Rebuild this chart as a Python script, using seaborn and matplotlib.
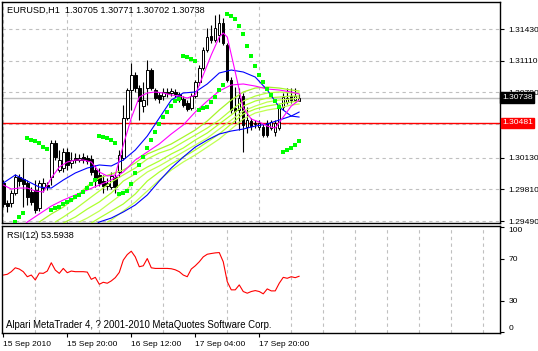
import matplotlib
matplotlib.use("Agg")
import matplotlib.pyplot as plt
import seaborn as sns
import numpy as np

sns.set_style("white")
plt.rcParams['font.family'] = ['Liberation Sans', 'DejaVu Sans']

# ---------------- data ----------------
opens = [1.29875, 1.29673, 1.29673, 1.29774, 1.29935, 1.29915, 1.29875, 1.29784, 1.29804, 1.29622,
         1.29824, 1.29855, 1.29935, 1.30279, 1.30006, 1.30026, 1.30188, 1.30077, 1.30127, 1.30107,
         1.30137, 1.30127, 1.30117, 1.30006, 1.29956, 1.29895, 1.29845, 1.29834, 1.29935, 1.29986,
         1.30127, 1.30531, 1.30814, 1.30966, 1.30834, 1.30652, 1.30834, 1.31016, 1.30814, 1.30764,
         1.30753, 1.30794, 1.30784, 1.30794, 1.30774, 1.30723, 1.30683, 1.30632, 1.30753, 1.30895,
         1.31036, 1.31218, 1.31359, 1.31319, 1.31370, 1.31491, 1.31268, 1.30915, 1.30632, 1.30612,
         1.30753, 1.30440, 1.30501, 1.30471, 1.30440, 1.30440, 1.30481, 1.30430, 1.30390, 1.30430,
         1.30642, 1.30693, 1.30753, 1.30713, 1.30705]
highs = [1.29905, 1.29703, 1.29804, 1.29966, 1.29966, 1.30127, 1.29905, 1.29834, 1.29905, 1.29905,
         1.29925, 1.29885, 1.30309, 1.30309, 1.30208, 1.30228, 1.30228, 1.30188, 1.30178, 1.30168,
         1.30178, 1.30158, 1.30158, 1.30057, 1.30026, 1.29956, 1.29925, 1.29986, 1.29986, 1.30208,
         1.30663, 1.30834, 1.31087, 1.30996, 1.30865, 1.30895, 1.31117, 1.31036, 1.30834, 1.30794,
         1.30834, 1.30834, 1.30834, 1.30824, 1.30794, 1.30753, 1.30713, 1.30784, 1.30915, 1.31066,
         1.31248, 1.31440, 1.31470, 1.31572, 1.31582, 1.31541, 1.31289, 1.30945, 1.30844, 1.30834,
         1.30784, 1.30642, 1.30531, 1.30511, 1.30511, 1.30471, 1.30511, 1.30511, 1.30511, 1.30673,
         1.30784, 1.30834, 1.30834, 1.30834, 1.30771]
lows = [1.29632, 1.29582, 1.29632, 1.29754, 1.29845, 1.29632, 1.29653, 1.29653, 1.29572, 1.29592,
        1.29784, 1.29804, 1.29855, 1.30107, 1.29986, 1.29986, 1.30006, 1.30026, 1.30077, 1.30087,
        1.30077, 1.30067, 1.29956, 1.29834, 1.29845, 1.29774, 1.29804, 1.29814, 1.29774, 1.29935,
        1.30107, 1.30511, 1.30612, 1.30794, 1.30511, 1.30592, 1.30663, 1.30814, 1.30713, 1.30683,
        1.30713, 1.30743, 1.30753, 1.30743, 1.30693, 1.30642, 1.30602, 1.30612, 1.30733, 1.30865,
        1.31016, 1.31198, 1.31289, 1.31299, 1.31299, 1.31268, 1.30895, 1.30582, 1.30481, 1.30410,
        1.30188, 1.30380, 1.30410, 1.30430, 1.30410, 1.30339, 1.30339, 1.30410, 1.30349, 1.30410,
        1.30612, 1.30673, 1.30683, 1.30693, 1.30702]
closes = [1.29663, 1.29642, 1.29774, 1.29935, 1.29895, 1.29865, 1.29733, 1.29683, 1.29602, 1.29875,
          1.29875, 1.29834, 1.30279, 1.30137, 1.30107, 1.30188, 1.30057, 1.30107, 1.30107, 1.30127,
          1.30107, 1.30097, 1.29986, 1.29905, 1.29875, 1.29845, 1.29875, 1.29946, 1.29834, 1.30158,
          1.30531, 1.30814, 1.30966, 1.30834, 1.30703, 1.30713, 1.31016, 1.30834, 1.30733, 1.30723,
          1.30794, 1.30784, 1.30804, 1.30774, 1.30723, 1.30663, 1.30622, 1.30753, 1.30895, 1.31036,
          1.31218, 1.31349, 1.31319, 1.31440, 1.31491, 1.31289, 1.30915, 1.30612, 1.30602, 1.30733,
          1.30461, 1.30511, 1.30450, 1.30481, 1.30481, 1.30359, 1.30359, 1.30491, 1.30481, 1.30642,
          1.30743, 1.30733, 1.30713, 1.30753, 1.30738]

sar_bars = list(range(3, 75))
sar_vals = [1.29481, 1.29531, 1.29572, 1.30329, 1.30309, 1.30299, 1.30279, 1.30238, 1.30218,
            1.29602, 1.29622, 1.29632, 1.29663, 1.29683, 1.29703, 1.29733, 1.29754, 1.29784, 1.29824,
            1.29865, 1.29905, 1.30349, 1.30339, 1.30329, 1.30309, 1.30279, 1.29764, 1.29774, 1.29794,
            1.29865, 1.29976, 1.30057, 1.30137, 1.30228, 1.30309, 1.30390, 1.30471, 1.30541, 1.30592,
            1.30652, 1.30703, 1.30723, 1.31157, 1.31147, 1.31127, 1.31107, 1.30612, 1.30632, 1.30642,
            1.30693, 1.30743, 1.30814, 1.30865, 1.31582, 1.31561, 1.31531, 1.31460, 1.31380, 1.31258,
            1.31157, 1.31056, 1.30966, 1.30895, 1.30824, 1.30764, 1.30703, 1.30642, 1.30188, 1.30208,
            1.30228, 1.30258, 1.30299]

blue_fast_bars = [0, 3, 6, 9, 12, 15, 18, 21, 24, 27, 30, 33, 36, 39, 42, 45, 48, 51, 54, 57, 60, 63, 66, 69, 72, 74]
blue_fast_vals = [1.29875, 1.29956, 1.29895, 1.29834, 1.29824, 1.29905, 1.29976, 1.30026, 1.30057, 1.30047,
                  1.30107, 1.30208, 1.30349, 1.30531, 1.30713, 1.30784, 1.30794, 1.30875, 1.30986, 1.31016,
                  1.30996, 1.30945, 1.30814, 1.30642, 1.30551, 1.30541]
blue_slow_bars = [23, 24, 27, 30, 33, 36, 39, 42, 45, 48, 51, 54, 57, 60, 63, 66, 69, 72, 74]
blue_slow_vals = [1.29451, 1.29481, 1.29521, 1.29582, 1.29653, 1.29754, 1.29895, 1.30026, 1.30137, 1.30238,
                  1.30309, 1.30370, 1.30400, 1.30420, 1.30450, 1.30471, 1.30511, 1.30551, 1.30592]
mag_fast_bars = [0, 2, 4, 6, 8, 10, 12, 14, 16, 18, 20, 22, 24, 26, 28, 30, 32, 34, 36, 38, 40, 42, 44,
                 46, 48, 50, 52, 54, 55, 56, 58, 60, 62, 64, 66, 68, 70, 72, 74]
mag_fast_vals = [1.29855, 1.29814, 1.29824, 1.29824, 1.29794, 1.29784, 1.29925, 1.30036, 1.30087, 1.30107,
                 1.30107, 1.30087, 1.29986, 1.29946, 1.29956, 1.30258, 1.30531, 1.30743, 1.30784, 1.30794,
                 1.30784, 1.30764, 1.30753, 1.30733, 1.30764, 1.30966, 1.31168, 1.31349, 1.31390, 1.31349,
                 1.30996, 1.30632, 1.30521, 1.30491, 1.30450, 1.30430, 1.30541, 1.30652, 1.30713]
mag_slow_bars = [5, 6, 9, 12, 15, 18, 21, 24, 27, 30, 33, 36, 39, 42, 45, 48, 51, 54, 57, 60, 63, 66, 69, 72, 74]
mag_slow_vals = [1.29440, 1.29481, 1.29562, 1.29642, 1.29703, 1.29754, 1.29804, 1.29855, 1.29905, 1.29986,
                 1.30107, 1.30188, 1.30269, 1.30370, 1.30461, 1.30592, 1.30703, 1.30804, 1.30865, 1.30875,
                 1.30854, 1.30824, 1.30814, 1.30794, 1.30774]

fan1_bars = [9, 12, 15, 18, 21, 24, 27, 30, 33, 36, 39, 42, 45, 48, 51, 54, 57, 60, 63, 66, 69, 72, 74]
fan1_vals = [1.29481, 1.29562, 1.29632, 1.29723, 1.29845, 1.29925, 1.29966, 1.30006, 1.30077, 1.30168,
             1.30218, 1.30269, 1.30339, 1.30410, 1.30501, 1.30612, 1.30713, 1.30794, 1.30834, 1.30844,
             1.30834, 1.30814, 1.30804]
fan2_bars = [13, 15, 18, 21, 24, 27, 30, 33, 36, 39, 42, 45, 48, 51, 54, 57, 60, 63, 66, 69, 72, 74]
fan2_vals = [1.29481, 1.29531, 1.29612, 1.29703, 1.29794, 1.29885, 1.29956, 1.30026, 1.30117, 1.30178,
             1.30218, 1.30289, 1.30359, 1.30430, 1.30511, 1.30612, 1.30703, 1.30753, 1.30784, 1.30794,
             1.30784, 1.30784]
fan3_bars = [15, 18, 21, 24, 27, 30, 33, 36, 39, 42, 45, 48, 51, 54, 57, 60, 63, 66, 69, 72, 74]
fan3_vals = [1.29471, 1.29531, 1.29612, 1.29683, 1.29774, 1.29895, 1.29966, 1.30036, 1.30097, 1.30168,
             1.30228, 1.30309, 1.30380, 1.30471, 1.30562, 1.30652, 1.30703, 1.30733, 1.30743, 1.30753,
             1.30753]
fan4_bars = [19, 21, 24, 27, 30, 33, 36, 39, 42, 45, 48, 51, 54, 57, 60, 63, 66, 69, 72, 74]
fan4_vals = [1.29481, 1.29521, 1.29592, 1.29683, 1.29774, 1.29895, 1.29986, 1.30047, 1.30117, 1.30188,
             1.30258, 1.30329, 1.30420, 1.30511, 1.30602, 1.30652, 1.30693, 1.30713, 1.30723, 1.30733]
fan5_bars = [22, 24, 27, 30, 33, 36, 39, 42, 45, 48, 51, 54, 57, 60, 63, 66, 69, 72, 74]
fan5_vals = [1.29471, 1.29521, 1.29592, 1.29663, 1.29764, 1.29895, 1.29986, 1.30067, 1.30137, 1.30208,
             1.30289, 1.30370, 1.30471, 1.30572, 1.30622, 1.30652, 1.30673, 1.30693, 1.30703]
fan6_bars = [26, 27, 30, 33, 36, 39, 42, 45, 48, 51, 54, 57, 60, 63, 66, 69, 72, 74]
fan6_vals = [1.29481, 1.29501, 1.29592, 1.29683, 1.29794, 1.29905, 1.30006, 1.30087, 1.30158, 1.30238,
             1.30319, 1.30420, 1.30521, 1.30582, 1.30612, 1.30632, 1.30663, 1.30673]

rsi_vals = [54.7, 55.4, 57.9, 61.6, 60.4, 57.9, 53.1, 54.7, 50.0, 56.6,
            56.3, 58.5, 66.4, 59.4, 56.3, 61.0, 56.9, 58.5, 57.9, 57.9,
            57.9, 57.5, 50.6, 52.5, 45.9, 47.8, 46.9, 49.1, 52.2, 57.2,
            68.9, 74.2, 77.4, 72.0, 62.6, 63.5, 70.4, 61.6, 61.0, 61.0,
            61.0, 61.0, 60.7, 59.7, 57.9, 54.7, 53.1, 60.4, 63.5, 67.3,
            72.0, 74.5, 75.2, 75.8, 76.1, 67.3, 48.4, 40.6, 40.6, 45.3,
            39.0, 37.4, 39.0, 39.9, 39.0, 36.8, 41.5, 39.6, 39.6, 46.9,
            52.5, 51.6, 53.1, 52.2, 53.59]

bid_price = 1.30738
hline_price = 1.30481
price_ticks = [1.31430, 1.31110, 1.30790, 1.30470, 1.30130, 1.29810, 1.29490]
price_tick_labels = ["1.31430", "1.31110", "1.30790", "", "1.30130", "1.29810", "1.29490"]
rsi_ticks = [0, 30, 70, 100]
date_bars = [0, 16, 32, 48, 64]
date_labels = ["15 Sep 2010", "15 Sep 20:00", "16 Sep 12:00", "17 Sep 04:00", "17 Sep 20:00"]
grid_bars = list(range(8, 121, 8))
header = "EURUSD,H1  1.30705 1.30771 1.30702 1.30738"
rsi_title = "RSI(12) 53.5938"
copyright_text = "Alpari MetaTrader 4, ? 2001-2010 MetaQuotes Software Corp."

# ---------------- figure ----------------
W, H = 538, 351
fig = plt.figure(figsize=(W / 100, H / 100), dpi=100)
fig.patch.set_facecolor('white')
ax = fig.add_axes([2 / W, 1 - 223 / H, 498 / W, 221 / H])
ax2 = fig.add_axes([2 / W, 1 - 333 / H, 498 / W, 107 / H], sharex=ax)

FS_AX = 6.1
FS_HEAD = 6.6
FS_COPY = 6.9
FS_DATE = 6.0
GRID = dict(color='#C0C0C0', linestyle=(0, (3, 3)), linewidth=0.8)

xl = (-0.325, 124.2)
ax.set_xlim(*xl)
ax.set_ylim(1.29471, 1.31703)

# grid
ax.set_xticks(grid_bars)
ax.set_yticks(price_ticks)
ax.set_yticklabels(price_tick_labels)
ax.grid(True, **GRID)
ax.set_axisbelow(True)
ax.tick_params(axis='x', length=0, labelbottom=False)
ax.yaxis.tick_right()
ax.tick_params(axis='y', direction='out', length=3, width=0.8, pad=3, labelsize=FS_AX, colors='black')

# horizontal lines
ax.axhline(bid_price, color='#C0C0C0', lw=1.0, zorder=1.2)
ax.axhline(hline_price, color='#FF0000', lw=1.0, zorder=1.3)

# candles
xs = np.arange(len(opens))
o = np.array(opens); c = np.array(closes)
ax.vlines(xs, lows, highs, color='black', lw=0.8, zorder=2)
bottoms = np.minimum(o, c)
heights = np.maximum(np.abs(c - o), 0.00002)
colors = ['white' if cc >= oo else 'black' for oo, cc in zip(o, c)]
ax.bar(xs, heights, bottom=bottoms, width=0.62, color=colors, edgecolor='black', linewidth=0.7, zorder=2.1)

# indicator lines
def line(bx, vals, color, lw=0.8):
    sns.lineplot(x=bx, y=vals, ax=ax, color=color, linewidth=lw, estimator=None,
                 legend=False, zorder=3)

for fb, fv, col in [(fan6_bars, fan6_vals, '#C0FF50'), (fan5_bars, fan5_vals, '#ADFF2F'),
                    (fan4_bars, fan4_vals, '#C0FF50'), (fan3_bars, fan3_vals, '#ADFF2F'),
                    (fan2_bars, fan2_vals, '#B4FF3A'), (fan1_bars, fan1_vals, '#A6F52A')]:
    line(fb, fv, col, lw=0.9)
line(blue_slow_bars, blue_slow_vals, '#0000FF')
line(blue_fast_bars, blue_fast_vals, '#0000FF')
line(mag_slow_bars, mag_slow_vals, '#FF00FF')
line(mag_fast_bars, mag_fast_vals, '#FF00FF')

sns.scatterplot(x=sar_bars, y=sar_vals, ax=ax, marker='s', s=8, color='#00FF00',
                edgecolor='none', linewidth=0, legend=False, zorder=4)
ax.set_xlim(*xl)
ax.set_ylim(1.29471, 1.31703)
ax.set_xlabel(''); ax.set_ylabel('')

# price boxes
ax.text(1.004, bid_price, "1.30738", transform=ax.get_yaxis_transform(), color='white',
        fontsize=FS_AX, va='center', ha='left', clip_on=False, zorder=10,
        bbox=dict(boxstyle='square,pad=0.2', fc='black', ec='black'))
ax.text(1.004, hline_price, "1.30481", transform=ax.get_yaxis_transform(), color='white',
        fontsize=FS_AX, va='center', ha='left', clip_on=False, zorder=10,
        bbox=dict(boxstyle='square,pad=0.14', fc='#FF0000', ec='#FF0000'))

# RSI panel
sns.lineplot(x=xs, y=rsi_vals, ax=ax2, color='#FF0000', linewidth=0.8, estimator=None, legend=False)
ax2.set_xlim(*xl)
ax2.set_ylim(-0.5, 101.4)
ax2.set_xticks(grid_bars, minor=True)
ax2.set_yticks([30, 70], minor=True)
ax2.grid(True, which='minor', **GRID)
ax2.grid(False, which='major')
ax2.set_axisbelow(True)
ax2.set_xticks(date_bars)
ax2.set_xticklabels(date_labels, ha='left')
ax2.tick_params(axis='x', which='major', direction='out', length=3, width=0.8, pad=2.5,
                labelsize=FS_DATE, colors='black', bottom=True)
ax2.tick_params(which='minor', length=0)
ax2.yaxis.tick_right()
ax2.set_yticks(rsi_ticks)
ax2.set_yticklabels([str(t) for t in rsi_ticks])
ax2.tick_params(axis='y', which='major', direction='out', length=3, width=0.8, pad=3,
                labelsize=FS_AX, colors='black')
tl = ax2.get_yticklabels()
tl[0].set_va('bottom')
tl[-1].set_va('top')
ax2.set_xlabel(''); ax2.set_ylabel('')

for a in (ax, ax2):
    for s in a.spines.values():
        s.set_visible(True)
        s.set_color('black')
        s.set_linewidth(1.0)

fig.text(7 / W, 1 - 10.5 / H, header, fontsize=FS_HEAD, va='center', ha='left', color='black')
fig.text(7 / W, 1 - 235.5 / H, rsi_title, fontsize=FS_HEAD, va='center', ha='left', color='black')
fig.text(6 / W, 1 - 325 / H, copyright_text, fontsize=FS_COPY, va='center', ha='left', color='black')

fig.savefig('out.png', dpi=100, facecolor='white')
